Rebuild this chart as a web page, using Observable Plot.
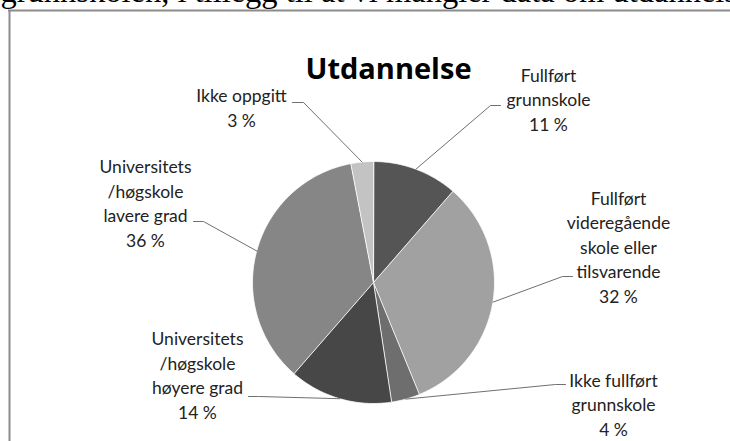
<!DOCTYPE html>
<html><head><meta charset="utf-8">
<script src="https://cdn.jsdelivr.net/npm/d3@7"></script>
<script src="https://cdn.jsdelivr.net/npm/@observablehq/plot@0.6"></script>
<style>html,body{margin:0;padding:0;background:#fff;overflow:hidden}svg{display:block}</style>
</head><body><div id="chart"></div>
<script>
// ---- data ----
const categories = [
  "Fullført grunnskole",
  "Fullført videregående skole eller tilsvarende",
  "Ikke fullført grunnskole",
  "Universitets/høgskole høyere grad",
  "Universitets/høgskole lavere grad",
  "Ikke oppgitt"
];
const labelLines = [
  ["Fullført", "grunnskole"],
  ["Fullført", "videregående", "skole eller", "tilsvarende"],
  ["Ikke fullført", "grunnskole"],
  ["Universitets", "/høgskole", "høyere grad"],
  ["Universitets", "/høgskole", "lavere grad"],
  ["Ikke oppgitt"]
];
const shares = [11.4, 32.4, 3.8, 13.8, 35.6, 3.0];
const sliceColors = ["#555555", "#a1a1a1", "#6e6e6e", "#474747", "#868686", "#c3c3c3"];
const title = "Utdannelse";
const bodyText = "grunnskolen, i tillegg til at vi mangler data om utdannelsen";

// ---- layout ----
const W = 730, H = 441;
const pie = {cx: 373, cy: 282, r: 121};
const titlePos = {x: 388, y: 78};
const labelPos = [
  {x: 548, y: 130, e0: [500, 105], e1: [490, 105]},
  {x: 618, y: 302, e0: [572, 276], e1: [562, 276]},
  {x: 613, y: 435, e0: [565, 384], e1: [555, 384]},
  {x: 197, y: 418, e0: [248, 396], e1: [258, 396]},
  {x: 145, y: 246, e0: [193, 221], e1: [203, 221]},
  {x: 241, y: 126, e0: [292, 102], e1: [303, 102]}
];
const labelFont = 17.5, lineGap = 24.5;

// ---- derived ----
const total = d3.sum(shares);
let acc = 0;
const slices = shares.map((v, i) => {
  const a0 = acc / total * 2 * Math.PI; acc += v;
  const a1 = acc / total * 2 * Math.PI;
  return {key: categories[i], a0, a1, mid: (a0 + a1) / 2, v};
});
const px = a => pie.cx + pie.r * Math.sin(a);
const py = a => pie.cy - pie.r * Math.cos(a);
const piePts = slices.flatMap(s => {
  const n = Math.max(2, Math.ceil((s.a1 - s.a0) / (Math.PI / 180)));
  const pts = [{key: s.key, x: pie.cx, y: pie.cy}];
  for (let k = 0; k <= n; k++) {
    const a = s.a0 + (s.a1 - s.a0) * k / n;
    pts.push({key: s.key, x: px(a), y: py(a)});
  }
  return pts;
});
const leaderPts = slices.flatMap((s, i) => {
  const L = labelPos[i];
  return [
    {key: s.key, x: L.e0[0], y: L.e0[1]},
    {key: s.key, x: L.e1[0], y: L.e1[1]},
    {key: s.key, x: px(s.mid), y: py(s.mid)}
  ];
});
const labels = slices.map((s, i) => ({
  x: labelPos[i].x, y: labelPos[i].y,
  text: [...labelLines[i], `${Math.round(s.v)} %`].join("\n")
}));

const chart = Plot.plot({
  width: W, height: H, margin: 0,
  x: {domain: [0, W], range: [0, W], axis: null},
  y: {domain: [0, H], range: [0, H], axis: null},
  color: {type: "ordinal", domain: categories, range: sliceColors},
  style: {fontFamily: "Lato, sans-serif", background: "#fff", overflow: "hidden"},
  marks: [
    Plot.text([bodyText], {x: 0, y: -8.5, text: d => d, textAnchor: "start", lineAnchor: "middle",
      fontSize: 32.5, fontFamily: "Liberation Serif", fill: "#000"}),
    Plot.ruleX([9], {y1: 10, y2: H, stroke: "#8c8c8c", strokeWidth: 2}),
    Plot.ruleY([10], {x1: 8, x2: W, stroke: "#8c8c8c", strokeWidth: 2}),
    Plot.line(piePts, {x: "x", y: "y", z: "key", fill: "key", stroke: "#ffffff", strokeWidth: 0.8, curve: "linear-closed"}),
    Plot.line(leaderPts, {x: "x", y: "y", z: "key", stroke: "#707070", strokeWidth: 1}),
    Plot.text(labels, {x: "x", y: "y", text: "text", textAnchor: "middle", lineAnchor: "bottom",
      lineHeight: lineGap / labelFont, fontSize: labelFont, fill: "#222"}),
    Plot.text([title], {x: titlePos.x, y: titlePos.y, text: d => d, lineAnchor: "bottom",
      fontSize: 29, fontWeight: "bold", fontFamily: "Open Sans, sans-serif", fill: "#000"})
  ]
});
document.getElementById("chart").append(chart);
</script>
</body></html>
